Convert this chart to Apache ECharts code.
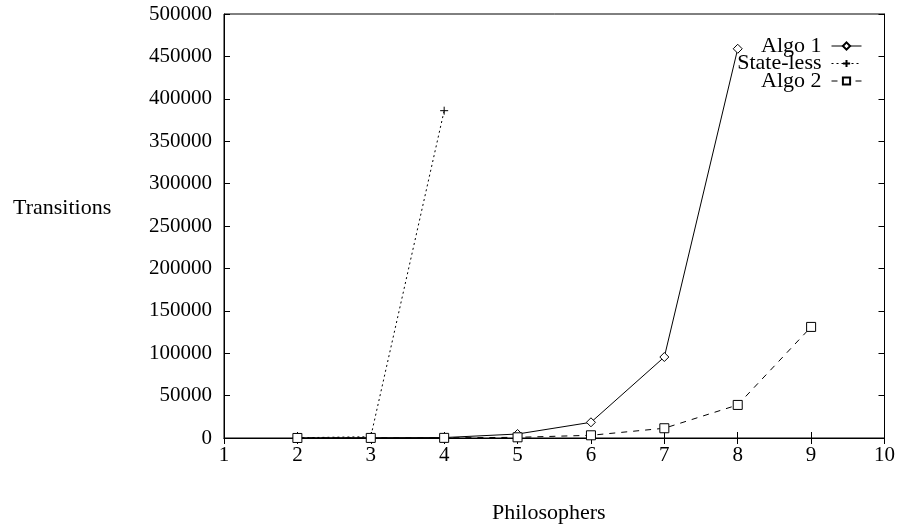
<!DOCTYPE html>
<html><head><meta charset="utf-8">
<script src="https://cdn.jsdelivr.net/npm/echarts@6/dist/echarts.min.js"></script>
<style>html,body{margin:0;padding:0;background:#fff}#c{width:898px;height:527px}</style>
</head><body><div id="c"></div>
<script>
const philosophers = [2, 3, 4, 5, 6, 7, 8, 9];
const algo1 = [100, 300, 500, 4700, 18500, 95500, 459000, null];
const stateless = [300, 1500, 386000, null, null, null, null, null];
const algo2 = [50, 100, 150, 800, 3200, 11500, 39000, 131000];
const xTicks = [1, 2, 3, 4, 5, 6, 7, 8, 9, 10];
const yTicks = [0, 50000, 100000, 150000, 200000, 250000, 300000, 350000, 400000, 450000, 500000];

const pairs = v => philosophers.map((x, i) => [x, v[i]]).filter(p => p[1] !== null);
const font = 'Liberation Serif';
const black = '#000';
const chart = echarts.init(document.getElementById('c'));
const common = {
  type: 'line', color: black, symbolSize: 9,
  itemStyle: { color: '#fff', borderColor: black, borderWidth: 1 },
  emphasis: { disabled: true }, animation: false
};
const tickStyle = { inside: true, length: 6, lineStyle: { color: black, width: 1 } };
chart.setOption({
  animation: false,
  grid: { left: 224, right: 12, top: 14, bottom: 89, show: true, borderColor: black, borderWidth: 1 },
  xAxis: [{
    type: 'value', min: xTicks[0], max: xTicks[xTicks.length - 1], interval: 1,
    axisLine: { onZero: false, lineStyle: { color: black } },
    axisTick: tickStyle,
    axisLabel: { color: black, fontFamily: font, fontSize: 21, margin: 7 },
    splitLine: { show: false }
  }, {
    type: 'value', position: 'top', min: xTicks[0], max: xTicks[xTicks.length - 1], interval: 1,
    axisLine: { lineStyle: { color: black } },
    axisTick: tickStyle,
    axisLabel: { show: false }, splitLine: { show: false }
  }],
  yAxis: [{
    type: 'value', min: yTicks[0], max: yTicks[yTicks.length - 1], interval: 50000,
    axisLine: { show: true, onZero: false, lineStyle: { color: black } },
    axisTick: Object.assign({ show: true }, tickStyle),
    axisLabel: { color: black, fontFamily: font, fontSize: 21, margin: 12, formatter: v => String(v) },
    splitLine: { show: false }
  }, {
    type: 'value', position: 'right', min: yTicks[0], max: yTicks[yTicks.length - 1], interval: 50000,
    axisLine: { show: true, lineStyle: { color: black } },
    axisTick: Object.assign({ show: true }, tickStyle),
    axisLabel: { show: false }, splitLine: { show: false }
  }],
  legend: {
    orient: 'vertical', right: 31, top: 30, align: 'right',
    itemWidth: 30, itemHeight: 9, itemGap: -4.5,
    lineStyle: { width: 1 },
    textStyle: { color: black, fontFamily: font, fontSize: 22, padding: [0, 5, 0, 0] },
    data: ['Algo 1', 'State-less', 'Algo 2']
  },
  graphic: [
    { type: 'text', x: 13, y: 208, style: { text: 'Transitions', font: '22px "Liberation Serif"', fill: black, verticalAlign: 'middle' } },
    { type: 'text', x: 492, y: 513, style: { text: 'Philosophers', font: '22px "Liberation Serif"', fill: black, verticalAlign: 'middle' } }
  ],
  series: [
    Object.assign({}, common, { name: 'Algo 1', symbol: 'diamond', data: pairs(algo1),
      lineStyle: { color: black, width: 1, type: 'solid' } }),
    Object.assign({}, common, { name: 'State-less', symbol: 'path://M5,0L5,10M0,5L10,5', symbolSize: 8, data: pairs(stateless),
      lineStyle: { color: black, width: 1, type: [2, 3] } }),
    Object.assign({}, common, { name: 'Algo 2', symbol: 'rect', data: pairs(algo2),
      lineStyle: { color: black, width: 1, type: [6, 6] } })
  ]
});
</script></body></html>
